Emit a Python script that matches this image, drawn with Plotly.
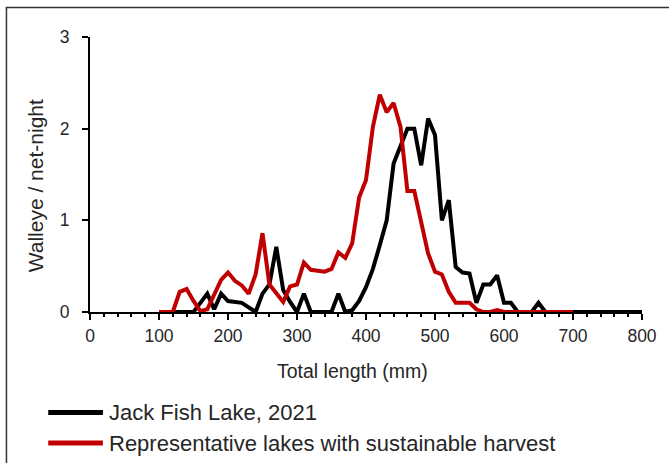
import plotly.graph_objects as go

# Total length bins (mm)
length_black = list(range(100, 810, 10))
length_red = list(range(100, 710, 10))

# Jack Fish Lake, 2021
walleye_black = [
    0, 0, 0, 0, 0, 0, 0.1, 0.2, 0.03, 0.2,        # 100-190
    0.12, 0.11, 0.1, 0.05, 0, 0.2, 0.3, 0.71, 0.24, 0.11,  # 200-290
    0, 0.2, 0, 0, 0, 0, 0.2, 0, 0.02, 0.12,         # 300-390
    0.27, 0.47, 0.73, 1.0, 1.62, 1.8, 2.0, 2.0, 1.6, 2.11,  # 400-490
    1.93, 1.0, 1.22, 0.49, 0.43, 0.42, 0.1, 0.3, 0.3, 0.4,  # 500-590
    0.1, 0.1, 0, 0, 0, 0.1, 0, 0, 0, 0,              # 600-690
    0, 0, 0, 0, 0, 0, 0, 0, 0, 0,                    # 700-790
    0,                                               # 800
]

# Representative lakes with sustainable harvest
walleye_red = [
    0, 0, 0, 0.22, 0.25, 0.12, 0.01, 0.03, 0.2, 0.35,      # 100-190
    0.43, 0.34, 0.29, 0.2, 0.41, 0.86, 0.3, 0.2, 0.11, 0.28,  # 200-290
    0.3, 0.54, 0.46, 0.45, 0.44, 0.47, 0.65, 0.59, 0.75, 1.25,  # 300-390
    1.44, 2.02, 2.37, 2.18, 2.28, 2.02, 1.32, 1.32, 1.0, 0.64,  # 400-490
    0.44, 0.41, 0.22, 0.1, 0.1, 0.1, 0.03, 0, 0, 0.02,        # 500-590
    0, 0, 0, 0, 0, 0, 0, 0, 0, 0,                              # 600-690
    0,                                                         # 700
]

series_names = ["Jack Fish Lake, 2021", "Representative lakes with sustainable harvest"]
series_colors = ["#000000", "#C00000"]

x_ticks = list(range(0, 900, 100))
y_ticks = [0, 1, 2, 3]

FONT = "Liberation Sans, Arial, sans-serif"
TXT = "#262626"

fig = go.Figure()
fig.add_trace(go.Scatter(x=length_black, y=walleye_black, mode="lines",
                         line=dict(color=series_colors[0], width=4),
                         name=series_names[0], showlegend=False))
fig.add_trace(go.Scatter(x=length_red, y=walleye_red, mode="lines",
                         line=dict(color=series_colors[1], width=4),
                         name=series_names[1], showlegend=False))

W, H = 669, 463
L, R, T, B = 90, 24, 37, 151
pw, ph = W - L - R, H - T - B

def px(xp):
    return (xp - L) / pw

def py(yp):
    return (H - B - yp) / ph

fig.update_layout(
    width=W, height=H,
    margin=dict(l=L, r=R, t=T, b=B),
    paper_bgcolor="white", plot_bgcolor="white",
    font=dict(family=FONT, color=TXT, size=17.5),
    showlegend=False,
    xaxis=dict(range=[0, 800], tickvals=x_ticks, ticks="outside", ticklen=6,
               tickwidth=2, tickcolor="black",
               minor=dict(dtick=20, ticks="outside", ticklen=3, tickwidth=2, tickcolor="black"),
               showline=True, linecolor="black", linewidth=2,
               showgrid=False, zeroline=False, tickfont=dict(size=17.5),
               ticklabelstandoff=1),
    yaxis=dict(range=[0, 3], tickvals=y_ticks, ticks="outside", ticklen=6,
               tickwidth=2, tickcolor="black",
               showline=True, linecolor="black", linewidth=2,
               showgrid=False, zeroline=False, tickfont=dict(size=17.5),
               ticklabelstandoff=9),
)

# axis titles
fig.add_annotation(x=px(354), y=py(371), xref="paper", yref="paper",
                   text="Total length (mm)", showarrow=False,
                   font=dict(size=19.5, family=FONT, color=TXT),
                   xanchor="center", yanchor="middle")
fig.add_annotation(x=px(36), y=py(186), xref="paper", yref="paper",
                   text="Walleye / net-night", showarrow=False, textangle=-90,
                   font=dict(size=21, family=FONT, color=TXT),
                   xanchor="center", yanchor="middle")

# manual legend
legend_rows = [412.5, 443]
for name, color, yrow in zip(series_names, series_colors, legend_rows):
    fig.add_shape(type="line", xref="paper", yref="paper",
                  x0=px(48), x1=px(103), y0=py(yrow), y1=py(yrow),
                  line=dict(color=color, width=5))
    fig.add_annotation(x=px(107), y=py(yrow), xref="paper", yref="paper",
                       text=name, showarrow=False, xanchor="left", yanchor="middle",
                       font=dict(size=22, family=FONT, color=TXT))

# outer frame (left and top edges visible)
fig.add_shape(type="path", xref="paper", yref="paper",
              path=f"M {px(6)},{py(H + 10)} L {px(6)},{py(7.5)} L {px(W + 10)},{py(7.5)}",
              line=dict(color="#333333", width=1.5))

fig.write_html("out.html")
